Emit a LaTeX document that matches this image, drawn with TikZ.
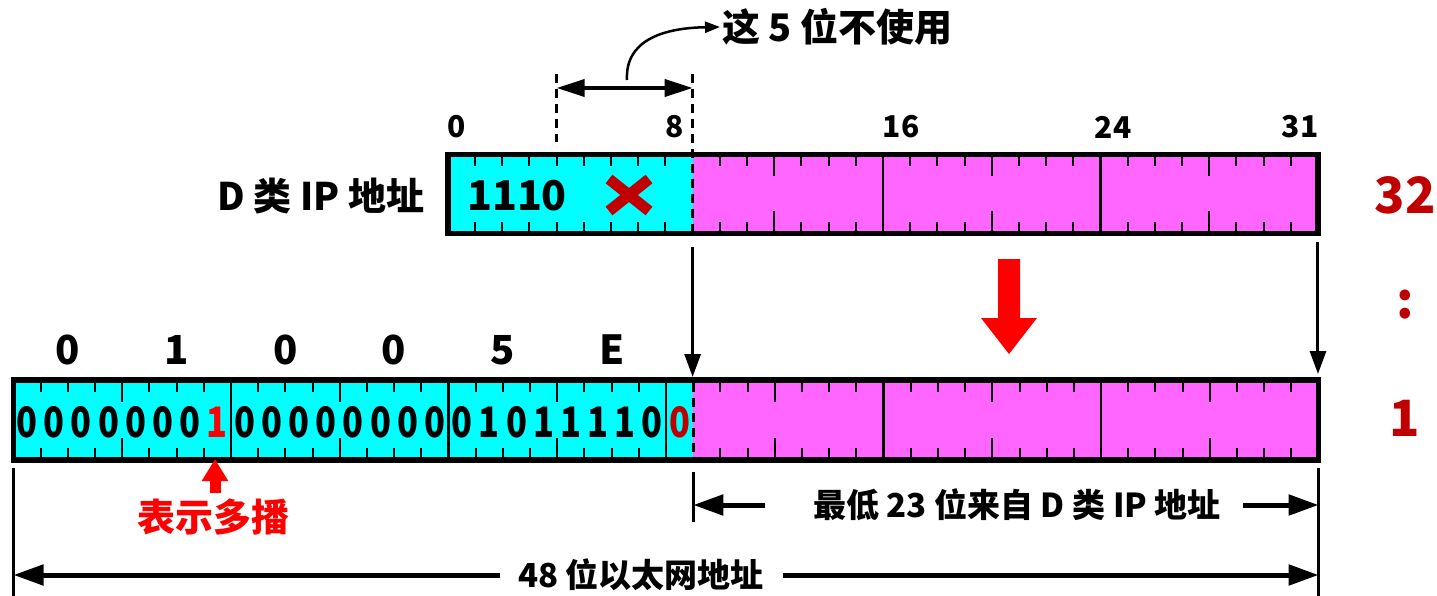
\documentclass[tikz,border=0pt]{standalone}
\usepackage{fontspec}
\setmainfont{Noto Sans CJK SC}
\usetikzlibrary{arrows.meta}
\definecolor{cy}{HTML}{00FFFF}
\definecolor{mg}{HTML}{FF66FF}
\definecolor{dred}{HTML}{C00000}
\definecolor{bred}{HTML}{FF0000}
\newcommand\fsz[1]{\fontsize{#1}{#1}\selectfont\bfseries}
\begin{document}
\begin{tikzpicture}[x=1pt,y=-1pt,
  tick/.style={line width=2},
  divider/.style={line width=2.4},
  border/.style={line width=5.5},
  dashline/.style={line width=3,dash pattern=on 9 off 6},
  thinarrow/.style={line width=3,-{Triangle[length=23,width=16]}},
  dimarrow/.style={line width=5,-{Triangle[length=30,width=20]}},
  dimline/.style={line width=2.5},
  lbl/.style={inner sep=0,anchor=center},
]
\useasboundingbox (0,0) rectangle (1437,596);
\def\w{27.19}
% ---------- top bar (32 bits) ----------
\def\tx{447.9}
\def\ttop{154.5}
\def\tbot{233.5}
\fill[cy] (\tx,\ttop) rectangle ({\tx+9*\w},\tbot);
\fill[mg] ({\tx+9*\w},\ttop) rectangle ({\tx+32*\w},\tbot);
\foreach \k in {1,...,8,10,11,13,14,15,17,18,19,21,22,23,25,26,27,29,30,31}
  \draw[tick] ({\tx+\k*\w},\ttop) -- ++(0,12) ({\tx+\k*\w},\tbot) -- ++(0,-12);
\foreach \k in {12,20,28}
  \draw[tick] ({\tx+\k*\w},\ttop) -- ++(0,22) ({\tx+\k*\w},\tbot) -- ++(0,-22);
\foreach \k in {16,24}
  \draw[divider] ({\tx+\k*\w},\ttop) -- ({\tx+\k*\w},\tbot);
\draw[border] (\tx,\ttop) rectangle ({\tx+32*\w},\tbot);
% ---------- lower bar (48 bits) ----------
\def\bx{13.5}
\def\btop{380}
\def\bbot{460}
\fill[cy] (\bx,\btop) rectangle ({\bx+25*\w},\bbot);
\fill[mg] ({\bx+25*\w},\btop) rectangle ({\bx+48*\w},\bbot);
\foreach \k in {1,2,3,5,6,7,9,10,11,13,14,15,17,18,19,21,22,23,26,27,29,30,31,33,34,35,37,38,39,41,42,43,45,46,47}
  \draw[tick] ({\bx+\k*\w},\btop) -- ++(0,12) ({\bx+\k*\w},\bbot) -- ++(0,-12);
\foreach \k in {4,12,20,28,36,44}
  \draw[tick] ({\bx+\k*\w},\btop) -- ++(0,22) ({\bx+\k*\w},\bbot) -- ++(0,-22);
\foreach \k in {8,16,24,32,40}
  \draw[divider] ({\bx+\k*\w},\btop) -- ({\bx+\k*\w},\bbot);
\draw[border] (\bx,\btop) rectangle ({\bx+48*\w},\bbot);
% bits text
\foreach \d [count=\i from 0] in {0,0,0,0,0,0,0,1,0,0,0,0,0,0,0,0,0,1,0,1,1,1,1,0,0}{
  \pgfmathsetmacro\cx{\bx+(\i+0.5)*\w}
  \ifnum\i=7 \def\col{bred}\else\ifnum\i=24 \def\col{dred}\else\def\col{black}\fi\fi
  \node[lbl,text=\col,font=\fsz{42}] (bit\i) at (\cx,422) {\scalebox{0.82}[1]{\d}};
}
% hex labels
\foreach \h [count=\i from 0] in {0,1,0,0,5,E}{
  \pgfmathsetmacro\cx{\bx+(4*\i+2)*\w}
  \node[lbl,font=\fsz{40}] (hex\i) at (\cx,350) {\h};
}
% ---------- dashed marks ----------
\coordinate (d4top) at ({\tx+4*\w},74);
\coordinate (d4bot) at ({\tx+4*\w},142);
\coordinate (d9top) at ({\tx+9*\w},74);
\coordinate (d9bot) at ({\tx+9*\w},236);
\draw[dashline] (d4top) -- (d4bot);
\draw[dashline] (d9top) -- (d9bot);
\draw[dashline] ({\bx+25*\w},383) -- ({\bx+25*\w},458);
% double arrow for 5 unused bits
\coordinate (ua) at ({\tx+4*\w},88);
\coordinate (ub) at ({\tx+9*\w},88);
\draw[line width=4,{Triangle[length=28,width=17]}-{Triangle[length=28,width=17]}] (ua) -- (ub);
\node[lbl,anchor=west,font=\fsz{38}] (unused) at (722,27) {这 5 位不使用};
\coordinate (cs) at (627,80);
\draw[line width=2.5,-{Triangle[length=15,width=11]}] (cs) .. controls (625,42) and (660,28) .. ([xshift=-2]unused.west);
% ---------- top labels ----------
\node[lbl,font=\fsz{38}] (dlabel) at (321,196) {D 类 IP 地址};
\node[lbl,font=\fsz{41}] (b1110) at (517,196) {1110};
\draw[dred,line width=11] (609,179) -- (649,211) (649,179) -- (609,211);
\node[lbl,font=\fsz{30}] (n0) at (457,127) {0};
\node[lbl,font=\fsz{30}] (n8) at (675,127) {8};
\node[lbl,font=\fsz{30}] (n16) at (901,127) {16};
\node[lbl,font=\fsz{30}] (n24) at (1113,127) {24};
\node[lbl,font=\fsz{30}] (n31) at (1300,127) {31};
% right labels
\node[lbl,text=dred,font=\fsz{50}] (r32) at (1405,195) {32};
\node[lbl,text=dred,font=\fsz{50}] (rdots) at (1405,305) {:};
\node[lbl,text=dred,font=\fsz{50}] (r1) at (1405,418) {1};
% ---------- mapping arrows ----------
\coordinate (m1s) at ({\tx+9*\w},247);
\coordinate (m1e) at ({\tx+9*\w},377);
\coordinate (m2s) at ({\tx+32*\w},242);
\coordinate (m2e) at ({\tx+32*\w},374);
\draw[thinarrow] (m1s) -- (m1e);
\draw[thinarrow] (m2s) -- (m2e);
\fill[bred] (998,259) -- (1020,259) -- (1020,318) -- (1037,318) -- (1009,354) -- (981,318) -- (998,318) -- cycle;
% ---------- multicast mark ----------
\coordinate (mcs) at (215,493);
\coordinate (mce) at (215,459);
\draw[bred,line width=11,-{Triangle[length=22,width=25]}] (mcs) -- (mce);
\node[lbl,text=bred,font=\fsz{38}] (mc) at (213,517) {表示多播};
% ---------- dimension lines ----------
\coordinate (vl0) at (\bx,468);
\coordinate (vl1) at (\bx,596);
\coordinate (vm0) at ({\bx+25*\w},472);
\coordinate (vm1) at ({\bx+25*\w},522);
\coordinate (vr0) at ({\bx+48*\w},468);
\coordinate (vr1) at ({\bx+48*\w},596);
\draw[dimline] (vl0) -- (vl1) (vm0) -- (vm1) (vr0) -- (vr1);
\node[lbl,font=\fsz{33}] (low23) at (1017,505) {最低 23 位来自 D 类 IP 地址};
\coordinate (la) at (765,505);
\coordinate (lb) at (1243,505);
\draw[dimarrow] (la) -- (vm0 |- la);
\draw[dimarrow] (lb) -- (vr0 |- lb);
\node[lbl,font=\fsz{33}] (eth48) at (641,575) {48 位以太网地址};
\coordinate (ea) at (500,575);
\coordinate (eb) at (783,575);
\draw[dimarrow] (ea) -- (vl0 |- ea);
\draw[dimarrow] (eb) -- (vr0 |- eb);
\end{tikzpicture}
\end{document}
